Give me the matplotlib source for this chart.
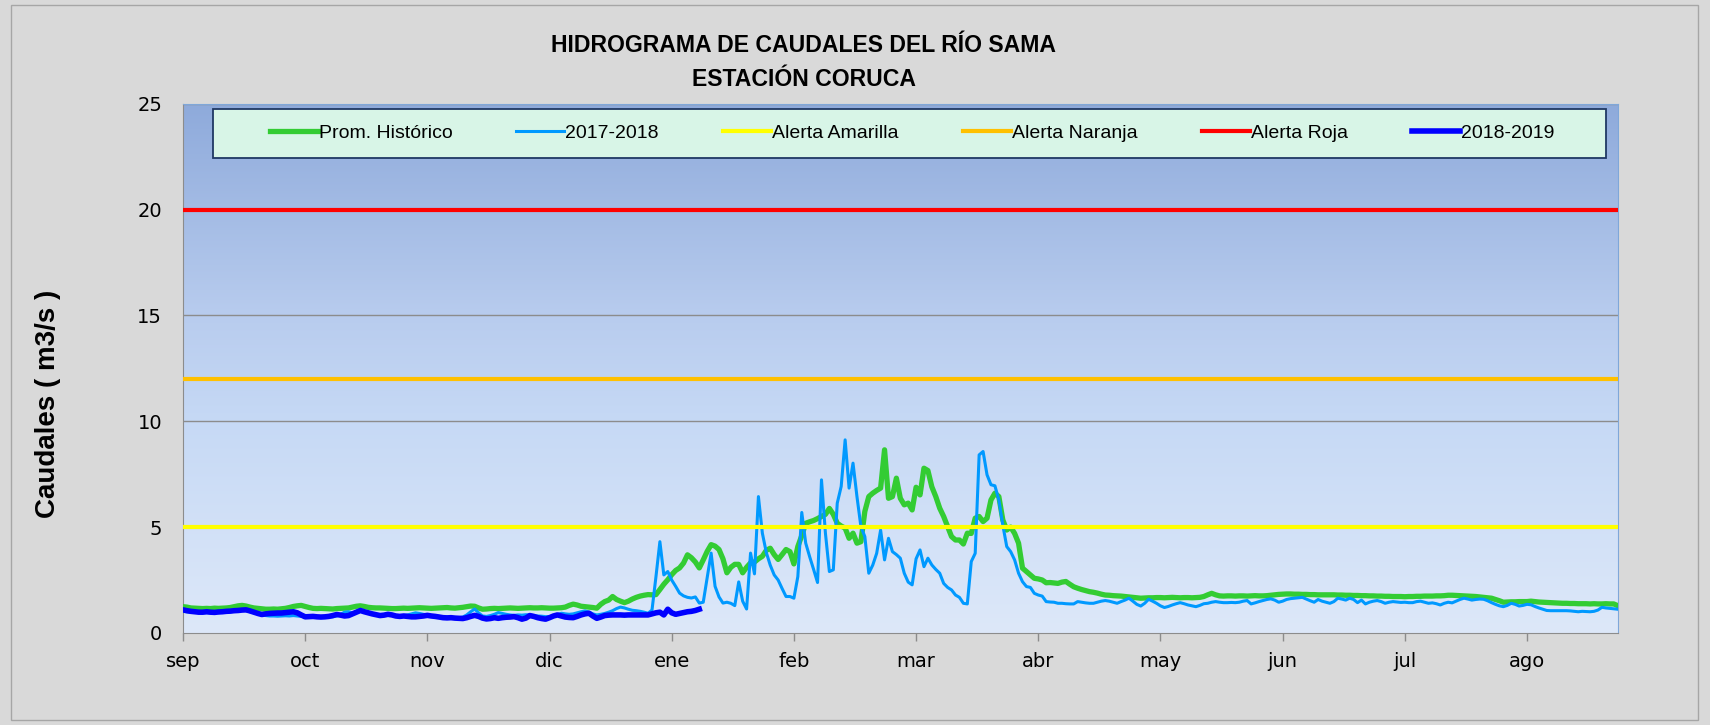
import numpy as np
import matplotlib
matplotlib.use('Agg')
import matplotlib.pyplot as plt
from matplotlib.patches import Rectangle

# caudales diarios (m3/s), sep -> ago
prom_historico = [
    1.24,1.22,1.18,1.17,1.16,1.15,1.16,1.15,1.17,1.16,
    1.17,1.18,1.20,1.24,1.28,1.30,1.27,1.22,1.18,1.16,
    1.14,1.12,1.12,1.13,1.12,1.14,1.16,1.20,1.25,1.28,
    1.30,1.25,1.20,1.16,1.15,1.16,1.15,1.14,1.13,1.15,
    1.16,1.17,1.18,1.22,1.26,1.28,1.25,1.21,1.19,1.18,
    1.18,1.17,1.16,1.15,1.15,1.16,1.17,1.16,1.17,1.18,
    1.19,1.18,1.17,1.16,1.17,1.18,1.19,1.20,1.18,1.17,
    1.19,1.21,1.24,1.27,1.26,1.18,1.12,1.13,1.15,1.16,
    1.15,1.16,1.17,1.18,1.17,1.16,1.17,1.18,1.19,1.18,
    1.18,1.19,1.18,1.17,1.17,1.18,1.19,1.22,1.30,1.36,
    1.32,1.26,1.24,1.22,1.20,1.17,1.35,1.48,1.55,1.72,
    1.58,1.50,1.43,1.50,1.60,1.68,1.74,1.78,1.81,1.80,
    1.81,2.05,2.30,2.51,2.75,2.95,3.07,3.30,3.69,3.55,
    3.35,3.07,3.45,3.85,4.17,4.10,3.94,3.50,2.84,3.10,
    3.24,3.24,2.84,3.10,3.31,3.35,3.50,3.62,3.90,4.00,
    3.70,3.47,3.70,3.94,3.84,3.26,4.08,4.60,5.18,5.25,
    5.31,5.40,5.50,5.60,5.88,5.60,5.18,5.05,4.95,4.47,
    4.71,4.24,4.31,5.74,6.44,6.60,6.73,6.84,8.65,6.36,
    6.44,7.31,6.36,6.05,6.13,5.81,6.88,6.52,7.78,7.67,
    6.90,6.44,5.89,5.50,5.02,4.55,4.39,4.39,4.20,4.71,
    4.70,5.42,5.50,5.26,5.42,6.28,6.60,6.44,5.34,4.86,
    5.00,4.70,4.24,3.06,2.90,2.74,2.58,2.55,2.50,2.37,
    2.38,2.36,2.34,2.40,2.43,2.30,2.18,2.11,2.05,2.00,
    1.95,1.92,1.88,1.83,1.79,1.78,1.76,1.75,1.74,1.72,
    1.70,1.68,1.66,1.64,1.65,1.66,1.66,1.67,1.67,1.66,
    1.67,1.68,1.67,1.66,1.67,1.67,1.66,1.67,1.68,1.72,
    1.80,1.87,1.80,1.75,1.74,1.75,1.75,1.74,1.75,1.75,
    1.74,1.75,1.76,1.75,1.75,1.76,1.78,1.80,1.82,1.83,
    1.84,1.84,1.83,1.83,1.82,1.82,1.81,1.81,1.80,1.80,
    1.80,1.80,1.80,1.79,1.79,1.78,1.78,1.77,1.77,1.76,
    1.76,1.75,1.75,1.74,1.74,1.73,1.73,1.72,1.72,1.72,
    1.71,1.72,1.72,1.73,1.73,1.74,1.74,1.74,1.75,1.75,
    1.76,1.78,1.78,1.77,1.76,1.75,1.74,1.73,1.72,1.70,
    1.68,1.66,1.64,1.58,1.52,1.45,1.46,1.47,1.47,1.48,
    1.48,1.48,1.50,1.48,1.46,1.45,1.44,1.43,1.42,1.41,
    1.40,1.40,1.39,1.39,1.38,1.38,1.38,1.37,1.38,1.37,
    1.37,1.38,1.37,1.37,1.29]

q_2017_2018 = [
    1.02,1.00,0.98,0.97,0.96,0.95,0.96,0.95,0.97,0.96,
    0.97,0.98,1.00,1.02,1.05,1.08,1.05,1.00,0.95,0.90,
    0.85,0.82,0.80,0.80,0.79,0.80,0.81,0.80,0.82,0.80,
    0.78,0.76,0.75,0.76,0.75,0.74,0.76,0.75,0.76,0.80,
    0.88,0.98,1.00,0.95,0.98,1.02,0.98,0.95,0.92,0.88,
    0.85,0.84,0.85,0.83,0.82,0.80,0.82,0.85,0.90,0.95,
    0.92,0.88,0.85,0.82,0.80,0.78,0.76,0.75,0.74,0.73,
    0.72,0.75,0.85,1.00,1.13,0.95,0.80,0.78,0.82,0.88,
    0.96,0.92,0.88,0.85,0.83,0.85,0.84,0.86,0.85,0.82,
    0.80,0.79,0.77,0.77,0.80,0.85,0.93,0.90,0.88,0.90,
    0.95,1.00,1.04,0.98,0.90,0.85,0.88,0.92,0.98,1.05,
    1.15,1.22,1.18,1.12,1.07,1.05,1.02,0.98,0.93,1.08,
    2.65,4.31,2.74,2.90,2.50,2.20,1.88,1.75,1.68,1.65,
    1.70,1.41,1.45,2.60,3.77,2.20,1.70,1.41,1.45,1.40,
    1.29,2.41,1.50,1.13,3.77,2.79,6.44,4.71,3.80,3.20,
    2.74,2.50,2.10,1.72,1.72,1.64,2.66,5.69,4.24,3.60,
    3.00,2.38,7.23,4.71,2.90,2.98,6.13,6.92,9.12,6.84,
    8.02,6.44,5.02,4.55,2.82,3.20,3.76,4.86,3.45,4.47,
    3.84,3.70,3.53,2.82,2.40,2.27,3.50,3.92,3.13,3.53,
    3.21,3.00,2.82,2.34,2.15,2.03,1.79,1.68,1.40,1.37,
    3.37,3.76,8.41,8.57,7.47,7.00,6.95,6.28,5.10,4.08,
    3.84,3.45,2.82,2.42,2.19,2.15,1.87,1.79,1.74,1.48,
    1.46,1.45,1.40,1.40,1.38,1.37,1.37,1.48,1.45,1.42,
    1.40,1.40,1.45,1.50,1.53,1.50,1.45,1.40,1.48,1.55,
    1.64,1.50,1.35,1.27,1.40,1.59,1.50,1.40,1.28,1.20,
    1.25,1.32,1.38,1.43,1.38,1.32,1.28,1.24,1.30,1.38,
    1.40,1.45,1.48,1.45,1.43,1.43,1.44,1.43,1.45,1.50,
    1.53,1.37,1.42,1.48,1.53,1.58,1.61,1.55,1.45,1.50,
    1.58,1.62,1.64,1.66,1.68,1.60,1.52,1.45,1.58,1.50,
    1.45,1.40,1.48,1.64,1.60,1.55,1.64,1.58,1.43,1.55,
    1.37,1.45,1.50,1.53,1.48,1.40,1.45,1.48,1.46,1.44,
    1.45,1.43,1.43,1.48,1.50,1.45,1.40,1.42,1.38,1.32,
    1.40,1.45,1.42,1.50,1.58,1.64,1.60,1.55,1.58,1.60,
    1.59,1.52,1.43,1.35,1.28,1.24,1.30,1.40,1.35,1.27,
    1.30,1.35,1.33,1.25,1.18,1.12,1.06,1.05,1.05,1.05,
    1.05,1.05,1.04,1.02,1.00,1.02,1.01,1.00,1.02,1.08,
    1.21,1.18,1.16,1.14,1.12]

q_2018_2019 = [
    1.09,1.05,1.02,1.00,0.98,0.98,1.00,0.98,0.97,0.99,
    1.00,1.02,1.03,1.05,1.06,1.08,1.09,1.04,0.98,0.92,
    0.87,0.90,0.92,0.93,0.94,0.94,0.96,0.98,1.00,0.95,
    0.85,0.76,0.77,0.78,0.76,0.75,0.76,0.78,0.82,0.87,
    0.84,0.80,0.82,0.90,0.98,1.06,1.00,0.95,0.90,0.86,
    0.82,0.84,0.88,0.85,0.80,0.78,0.80,0.78,0.76,0.76,
    0.78,0.80,0.83,0.80,0.78,0.75,0.72,0.71,0.72,0.70,
    0.69,0.68,0.72,0.78,0.83,0.78,0.70,0.66,0.68,0.72,
    0.69,0.72,0.74,0.75,0.77,0.72,0.65,0.70,0.82,0.78,
    0.72,0.68,0.65,0.72,0.80,0.85,0.80,0.75,0.73,0.72,
    0.78,0.85,0.90,0.93,0.80,0.69,0.75,0.82,0.84,0.85,
    0.85,0.85,0.84,0.85,0.85,0.85,0.85,0.85,0.85,0.90,
    0.95,0.98,0.85,1.12,0.95,0.88,0.92,0.96,1.00,1.02,
    1.06,1.12]

alerta_amarilla = 5
alerta_naranja = 12
alerta_roja = 20

meses = ['sep', 'oct', 'nov', 'dic', 'ene', 'feb', 'mar', 'abr', 'may', 'jun', 'jul', 'ago']
meses_pos = [0, 31, 62, 93, 124, 155, 186, 217, 248, 279, 310, 341]

plt.rcParams['font.family'] = ['Liberation Sans', 'DejaVu Sans']

fig = plt.figure(figsize=(17.1, 7.25), dpi=100, facecolor='#D9D9D9')
fig.patches.append(Rectangle((0.0064, 0.0069), 0.9865, 0.986, transform=fig.transFigure,
                             fill=False, edgecolor='#A6A6A6', lw=1))
ax = fig.add_axes([0.107, 0.127, 0.839, 0.730])

dias = np.arange(len(prom_historico))
n = dias[-1]

# fondo degradado del area de trazado
stops_v = [0, 10, 15, 25]
stops_c = np.array([[221, 232, 249], [198, 217, 245], [184, 204, 238], [142, 170, 219]]) / 255.0
yy = np.linspace(25, 0, 300)
grad = np.stack([np.interp(yy, stops_v, stops_c[:, k]) for k in range(3)], axis=-1)[:, None, :]
ax.imshow(grad, extent=[0, n, 0, 25], aspect='auto', zorder=0, interpolation='bilinear')

for v in [5, 10, 15, 20, 25]:
    ax.axhline(v, color='#8C8C8C', lw=1, zorder=1)

ax.plot(dias, prom_historico, color='#33CC33', lw=3.8, label='Prom. Histórico', zorder=3)
ax.plot(np.arange(len(q_2017_2018)), q_2017_2018, color='#0099FF', lw=2.2, label='2017-2018', zorder=4)
ax.plot(dias, np.full(len(dias), alerta_amarilla), color='#FFFF00', lw=3.0, label='Alerta Amarilla', zorder=5)
ax.plot(dias, np.full(len(dias), alerta_naranja), color='#FFC000', lw=3.0, label='Alerta Naranja', zorder=5)
ax.plot(dias, np.full(len(dias), alerta_roja), color='#FF0000', lw=3.0, label='Alerta Roja', zorder=5)
ax.plot(np.arange(len(q_2018_2019)), q_2018_2019, color='#0000FF', lw=4.0, label='2018-2019', zorder=6)

ax.set_xlim(0, n)
ax.set_ylim(0, 25)
ax.set_yticks([0, 5, 10, 15, 20, 25])
ax.set_xticks(meses_pos)
ax.set_xticklabels(meses)
ax.tick_params(axis='y', length=0, pad=15, labelsize=14, labelfontfamily='DejaVu Sans')
ax.tick_params(axis='x', length=5.5, width=1, color='#8C8C8C', pad=8, labelsize=14,
               labelfontfamily='DejaVu Sans')
for s in ['left', 'bottom']:
    ax.spines[s].set_color('#8C8C8C')
for s in ['top', 'right']:
    ax.spines[s].set_color('#7FA7D9')

# caja de la leyenda
ax.add_patch(Rectangle((0.021, 0.898), 0.971, 0.092, transform=ax.transAxes,
                       facecolor='#D8F5E7', edgecolor='#1F3864', lw=1.3, zorder=7))
leg = ax.legend(loc='center', bbox_to_anchor=(0.508, 0.944), ncol=6, frameon=False,
                fontsize=14, handlelength=2.47, handletextpad=0.05, columnspacing=3.3)
leg.set_zorder(8)

fig.text(0.470, 0.9366, 'HIDROGRAMA DE CAUDALES DEL RÍO SAMA', ha='center', va='center',
         fontsize=16.6, fontweight='bold')
fig.text(0.470, 0.891, 'ESTACIÓN CORUCA', ha='center', va='center', fontsize=16.6, fontweight='bold')
fig.text(0.028, 0.443, 'Caudales ( m3/s )', ha='center', va='center', rotation=90,
         fontsize=20, fontweight='bold')

fig.savefig('out.png', dpi=100, facecolor=fig.get_facecolor())
